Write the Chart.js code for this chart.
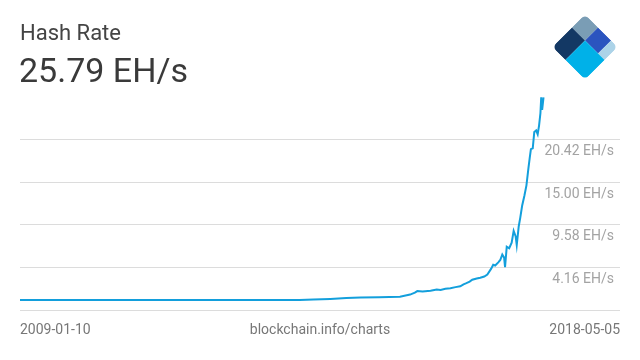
<!DOCTYPE html>
<html>
<head>
<meta charset="utf-8">
<script src="https://cdn.jsdelivr.net/npm/chart.js@4/dist/chart.umd.min.js"></script>
<style>
  html, body { margin: 0; padding: 0; background: #fff; }
  #wrap { position: relative; width: 640px; height: 360px; font-family: Roboto, sans-serif; }
  #chart { position: absolute; left: 0; top: 0; }
  .txt { position: absolute; white-space: nowrap; }
  #title { left: 20px; top: 20px; font-size: 22px; color: #444; }
  #current { left: 19px; top: 50px; font-size: 34px; color: #3a3a3a; }
  .foot { top: 321px; font-size: 14px; color: #777; }
  #logo { position: absolute; left: 549px; top: 11px; }
</style>
</head>
<body>
<div id="wrap">
  <canvas id="chart" width="640" height="360"></canvas>
  <div id="title" class="txt">Hash Rate</div>
  <div id="current" class="txt">25.79 EH/s</div>
  <div class="txt foot" style="left:20px">2009-01-10</div>
  <div class="txt foot" style="left:320px;transform:translateX(-50%)">blockchain.info/charts</div>
  <div class="txt foot" style="right:20px">2018-05-05</div>
  <svg id="logo" width="72" height="72" viewBox="-36 -36 72 72">
    <defs>
      <clipPath id="clip"><rect x="-22" y="-22" width="44" height="44" rx="5" ry="5"/></clipPath>
    </defs>
    <g transform="rotate(45) scale(1.05)" clip-path="url(#clip)">
      <rect x="-22" y="-22" width="17.6" height="17.6" fill="#7a9db5"/>
      <rect x="-22" y="-4.4" width="17.6" height="26.4" fill="#133864"/>
      <rect x="-4.4" y="-22" width="17.6" height="17.6" fill="#2b54bf"/>
      <rect x="13.2" y="-22" width="8.8" height="17.6" fill="#acd3e8"/>
      <rect x="-4.4" y="-4.4" width="26.4" height="26.4" fill="#00b1e8"/>
    </g>
  </svg>
</div>
<script>
// --- DATOS ---
const dates = ['2009-01-10','2010-01-01','2011-01-01','2012-01-01','2013-01-01','2013-07-01',
  '2014-01-01','2014-04-01','2014-07-20','2014-11-01','2015-02-01','2015-06-01','2015-10-15',
  '2015-12-20','2016-01-20','2016-02-05','2016-03-10','2016-05-01','2016-06-10','2016-07-05',
  '2016-08-05','2016-09-07','2016-10-10','2016-11-10','2016-12-01','2016-12-20','2017-01-10',
  '2017-01-27','2017-02-25','2017-03-20','2017-04-15','2017-05-05','2017-05-30','2017-06-12',
  '2017-06-25','2017-07-15','2017-07-28','2017-08-10','2017-08-22','2017-08-28','2017-09-08',
  '2017-09-24','2017-10-10','2017-10-23','2017-11-05','2017-11-12','2017-11-25','2017-12-05',
  '2017-12-17','2018-01-01','2018-01-14','2018-01-27','2018-02-05','2018-02-12','2018-02-24',
  '2018-03-06','2018-03-18','2018-03-28','2018-04-06','2018-04-15','2018-04-20','2018-04-26',
  '2018-05-05'];

// EH/s
const hashRate = [0, 0, 0, 0, 0.01, 0.02,
  0.02, 0.08, 0.15, 0.26, 0.32, 0.36, 0.42,
  0.7, 0.95, 1.15, 1.1, 1.2, 1.35, 1.3,
  1.45, 1.5, 1.65, 1.75, 2.0, 2.15, 2.35,
  2.6, 2.75, 2.85, 3.0, 3.25, 4.0, 4.5,
  4.4, 4.8, 5.1, 5.8, 5.4, 4.2, 6.8,
  6.6, 7.3, 8.8, 8.1, 7.0, 9.4, 10.5,
  12.0, 13.3, 14.6, 16.8, 18.2, 19.2, 19.3,
  21.4, 21.6, 21.1, 22.2, 23.8, 25.8, 24.2,
  25.8];

const yTicks = [-1.26, 4.16, 9.58, 15.00, 20.42];
const yMin = -1.26;
const yMax = 25.84;
const xStart = '2009-01-10';
const xEnd = '2019-09-14';

// --- GRÁFICO ---
const points = dates.map((d, i) => ({ x: Date.parse(d), y: hashRate[i] }));

new Chart(document.getElementById('chart'), {
  type: 'line',
  data: {
    datasets: [{
      data: points,
      borderColor: '#139fdc',
      borderWidth: 2,
      pointRadius: 0,
      tension: 0,
      fill: false
    }]
  },
  options: {
    responsive: false,
    animation: false,
    layout: { padding: { left: 20, right: 20, top: 97, bottom: 50 } },
    plugins: { legend: { display: false }, tooltip: { enabled: false } },
    scales: {
      x: {
        type: 'linear',
        min: Date.parse(xStart),
        max: Date.parse(xEnd),
        display: false
      },
      y: {
        position: 'right',
        min: yMin,
        max: yMax,
        afterBuildTicks: (scale) => { scale.ticks = yTicks.map(v => ({ value: v })); },
        afterFit: (scale) => { scale.width = 0; },
        border: { display: false },
        grid: { color: '#dcdcdc', lineWidth: 1, drawTicks: false },
        ticks: {
          mirror: true,
          padding: -6,
          labelOffset: 12,
          color: '#a3a3a3',
          font: { family: 'Roboto', size: 14 },
          callback: (v) => v === yMin ? '' : v.toFixed(2) + ' EH/s'
        }
      }
    }
  }
});
</script>
</body>
</html>
